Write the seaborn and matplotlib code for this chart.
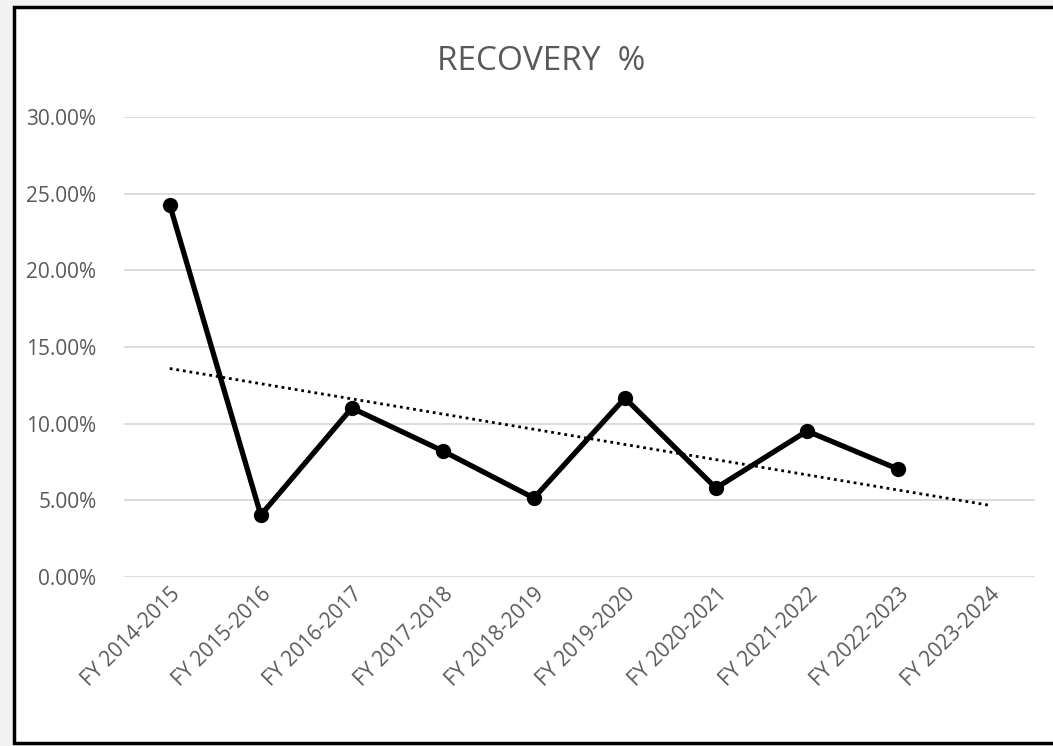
import numpy as np
import pandas as pd
import matplotlib.pyplot as plt
import matplotlib.ticker as mticker
from matplotlib.patches import Rectangle
import seaborn as sns

years = ['FY 2014-2015', 'FY 2015-2016', 'FY 2016-2017', 'FY 2017-2018', 'FY 2018-2019',
         'FY 2019-2020', 'FY 2020-2021', 'FY 2021-2022', 'FY 2022-2023', 'FY 2023-2024']
recovery = [0.2426, 0.0404, 0.1102, 0.0822, 0.0515, 0.1167, 0.0580, 0.0952, 0.0704]
yticks = [0.0, 0.05, 0.10, 0.15, 0.20, 0.25, 0.30]

sns.set_theme(style='white')
plt.rcParams['font.family'] = ['Open Sans', 'DejaVu Sans']

df = pd.DataFrame({'pos': range(len(recovery)), 'recovery': recovery})

fig = plt.figure(figsize=(10.53, 7.46), dpi=100)
fig.patch.set_facecolor('#f2f2f2')
# white chart area with the black frame
fig.patches.append(Rectangle((14 / 1053, 3 / 746), 1.1, 736 / 746, transform=fig.transFigure,
                             facecolor='white', edgecolor='black', linewidth=2.5, zorder=-5))

ax = fig.add_axes([0.118, 0.2265, 0.8645, 0.6167])
ax.set_zorder(1)
ax.set_facecolor('none')

# linear trendline across all categories
k, b = np.polyfit(df['pos'], df['recovery'], 1)
trend_x = np.arange(len(years))
ax.plot(trend_x, k * trend_x + b, color='black', linestyle=(0, (1, 1.4)), linewidth=2, zorder=2)

sns.lineplot(x='pos', y='recovery', data=df, color='black', linewidth=3.8,
             marker='o', markersize=11, markeredgewidth=0, ax=ax, zorder=3)

ax.set_xlim(-0.5, len(years) - 0.5)
ax.set_ylim(0, 0.30)
ax.set_yticks(yticks)
ax.yaxis.set_major_formatter(mticker.FuncFormatter(lambda v, _: f'{v * 100:.2f}%'))
ax.set_xticks(range(len(years)))
ax.set_xticklabels(years, rotation=45, ha='right', rotation_mode='anchor')
ax.tick_params(axis='both', length=0, labelsize=15, labelcolor='#595959')
ax.tick_params(axis='y', pad=20)
ax.tick_params(axis='x', pad=5)
ax.grid(axis='y', color='#d9d9d9', linewidth=1.3)
ax.set_axisbelow(True)
for s in ax.spines.values():
    s.set_visible(False)
ax.set_xlabel('')
ax.set_ylabel('')

fig.text(0.514, 0.918, 'RECOVERY  %', ha='center', va='center', fontsize=24, color='#595959')

fig.savefig('out.png', dpi=100)
